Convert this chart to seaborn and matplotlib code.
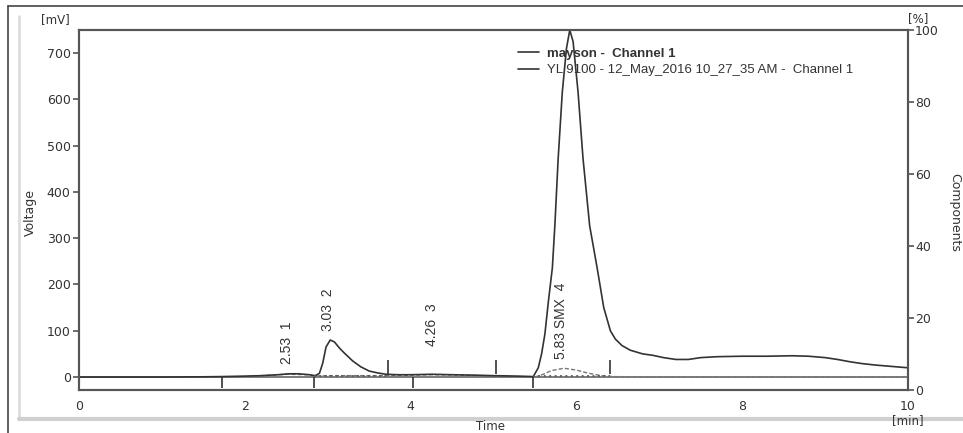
import matplotlib
matplotlib.use("Agg")
import matplotlib.pyplot as plt
import seaborn as sns
import pandas as pd
from matplotlib.lines import Line2D

# ---- data ----
main_time = [0, 0.5, 1.0, 1.5, 1.72, 2.0, 2.2, 2.4, 2.53, 2.65, 2.78, 2.85, 2.9, 2.94, 2.98,
             3.03, 3.08, 3.15, 3.2, 3.3, 3.4, 3.5, 3.6, 3.7, 3.85, 4.0, 4.26, 4.5, 4.8, 5.0,
             5.3, 5.48, 5.54, 5.58, 5.62, 5.66, 5.71, 5.74, 5.78, 5.83, 5.88, 5.92, 5.96,
             6.02, 6.08, 6.16, 6.25, 6.33, 6.41, 6.47, 6.55, 6.65, 6.8, 6.92, 7.05, 7.2, 7.35,
             7.5, 7.7, 8.0, 8.3, 8.6, 8.8, 9.0, 9.15, 9.3, 9.45, 9.6, 9.8, 10.0]
main_mv = [0, 0, 0, 0.5, 1, 2, 3, 5, 7, 7, 5, 3, 8, 30, 65,
           80, 76, 61, 52, 35, 22, 13, 9, 6, 5, 5, 6, 5, 4, 3,
           2, 1, 20, 50, 93, 160, 236, 327, 472, 616, 710, 750, 725,
           616, 472, 327, 236, 150, 100, 82, 68, 58, 50, 47, 42, 38, 38,
           42, 44, 45, 45, 46, 45, 42, 38, 33, 29, 26, 23, 20]

second_time = [0, 1.7, 2.0, 2.3, 2.53, 2.75, 2.85, 3.0, 3.5, 3.75, 4.26, 4.6, 5.0, 5.5,
               5.6, 5.7, 5.85, 6.0, 6.15, 6.3, 6.45, 7.0, 10.0]
second_mv = [0, 0, 1, 4, 6, 5, 2, 3, 3, 3, 5, 4, 2, 0,
             6, 14, 19, 15, 8, 3, 1, 0, 0]

baseline_segments = [((2.83, 3.73), (2.5, 2.5)), ((5.48, 6.41), (1.5, 1.5))]

mark_times = [1.72, 2.83, 3.73, 4.03, 5.03, 5.48, 6.41]
mark_above = [False, False, True, False, True, False, True]

peak_times = [2.51, 3.00, 4.26, 5.81]
peak_labels = ["2.53  1", "3.03  2", "4.26  3", "5.83 SMX  4"]
peak_label_base = [28, 100, 67, 39]

legend_labels = ["mayson -  Channel 1", "YL 9100 - 12_May_2016 10_27_35 AM -  Channel 1"]

x_ticks = [0, 2, 4, 6, 8, 10]
y_ticks = [0, 100, 200, 300, 400, 500, 600, 700]
pct_ticks = [0, 20, 40, 60, 80, 100]

# ---- style ----
sns.set_style("white")
plt.rcParams['font.family'] = ['DejaVu Sans']

axis_col = "#555555"
line_col = "#333333"

fig = plt.figure(figsize=(9.63, 4.33), dpi=100)
ax = fig.add_axes([79/963, 43/433, 829/963, 360/433])

df_main = pd.DataFrame({"t": main_time, "mv": main_mv})
df_sec = pd.DataFrame({"t": second_time, "mv": second_mv})

sns.lineplot(data=df_sec, x="t", y="mv", ax=ax, color="#777777", lw=1.0,
             estimator=None, sort=False, linestyle=(0, (3, 1.5)))
sns.lineplot(data=df_main, x="t", y="mv", ax=ax, color=line_col, lw=1.2,
             estimator=None, sort=False)
ax.axhline(0, color="#666666", lw=1.2, zorder=1)

for (tt, vv) in baseline_segments:
    ax.plot(tt, vv, color="#555555", lw=1.3, linestyle=(0, (1, 2)))

for t, up in zip(mark_times, mark_above):
    if up:
        ax.vlines(t, 6, 36, color=line_col, lw=1.2)
    else:
        ax.vlines(t, 0, -24, color=line_col, lw=1.2)

for t, lab, yb in zip(peak_times, peak_labels, peak_label_base):
    ax.text(t, yb, lab, rotation=90, ha="center", va="bottom",
            fontsize=10, color="#333333", family="Liberation Sans")

ax.set_xlim(0, 10)
ax.set_ylim(-28, 750)
ax.set_xticks(x_ticks)
ax.set_yticks(y_ticks)
ax.set_xlabel("")
ax.set_ylabel("")
ax.tick_params(axis="both", direction="out", length=4, width=1.2, color=axis_col,
               labelsize=9, labelcolor="#333333", pad=2)
ax.tick_params(axis="x", pad=3)
for s in ax.spines.values():
    s.set_color(axis_col)
    s.set_linewidth(1.5)
    s.set_visible(True)

ax2 = ax.twinx()
ax2.set_ylim(0, 100)
ax2.set_yticks(pct_ticks)
ax2.tick_params(axis="y", direction="out", length=4, width=1.2, color=axis_col,
                labelsize=9, labelcolor="#333333", pad=1)
for s in ax2.spines.values():
    s.set_color(axis_col)
    s.set_linewidth(1.5)
ax2.grid(False)
ax.grid(False)

handles = [Line2D([], [], color=line_col, lw=1.2), Line2D([], [], color=line_col, lw=1.2)]
leg = ax.legend(handles, legend_labels, loc="upper left", bbox_to_anchor=(0.515, 0.985),
                frameon=False, handlelength=1.6, handletextpad=0.6, labelspacing=0.35,
                prop={"family": "Liberation Sans", "size": 9.5})
leg.get_texts()[0].set_fontweight("bold")
for tx in leg.get_texts():
    tx.set_color("#333333")

# axis annotations
fig.text(55/963, 1 - 20/433, "[mV]", ha="center", va="center", fontsize=8.5, color="#333333")
fig.text(918/963, 1 - 19/433, "[%]", ha="center", va="center", fontsize=8.5, color="#333333")
fig.text(30/963, 1 - 212/433, "Voltage", rotation=90, ha="center", va="center",
         fontsize=9, color="#333333")
fig.text(955/963, 1 - 212/433, "Components", rotation=-90, ha="center", va="center",
         fontsize=9, color="#333333")
fig.text(908/963, 1 - 421/433, "[min]", ha="center", va="center", fontsize=8.5, color="#333333")
fig.text(490/963, 1 - 426/433, "Time", ha="center", va="center", fontsize=8.5, color="#333333")

# outer frame
fig.add_artist(Line2D([8/963, 8/963], [0, 1 - 6/433], color="#444444", lw=1.2,
                      transform=fig.transFigure))
fig.add_artist(Line2D([8/963, 1], [1 - 6/433, 1 - 6/433], color="#444444", lw=1.2,
                      transform=fig.transFigure))
fig.add_artist(Line2D([19/963, 19/963], [14/433, 1 - 16/433], color="#dddddd", lw=2,
                      transform=fig.transFigure))
fig.add_artist(Line2D([19/963, 1], [14/433, 14/433], color="#d0d0d0", lw=3,
                      transform=fig.transFigure))

fig.savefig("out.png", dpi=100)
